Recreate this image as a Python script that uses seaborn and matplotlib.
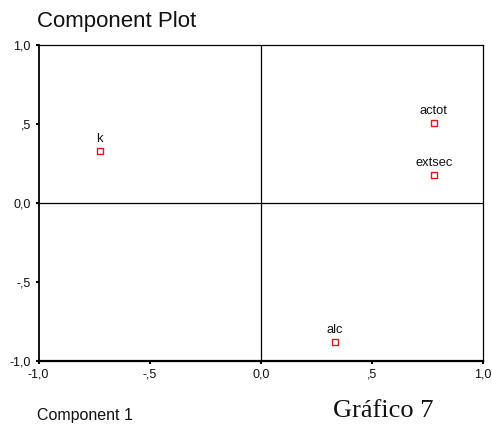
import matplotlib
matplotlib.use("Agg")
import matplotlib.pyplot as plt
import seaborn as sns
import pandas as pd

# Component loadings
variables = ["k", "actot", "extsec", "alc"]
comp1 = [-0.724, 0.778, 0.778, 0.333]
comp2 = [0.329, 0.506, 0.177, -0.880]
tick_values = [-1.0, -0.5, 0.0, 0.5, 1.0]
tick_labels = ["-1,0", "-,5", "0,0", ",5", "1,0"]

df = pd.DataFrame({"var": variables, "c1": comp1, "c2": comp2})

sns.set_theme(style="white")
plt.rcParams["font.family"] = ["Liberation Sans", "DejaVu Sans"]

W, H = 492, 426
fig = plt.figure(figsize=(W / 100, H / 100), dpi=100)
ax = fig.add_axes([38.5 / W, 1 - 361 / H, (483 - 38.5) / W, (361 - 45) / H])

sns.scatterplot(data=df, x="c1", y="c2", ax=ax, marker="s", s=15,
                facecolor="white", edgecolor="#e8141c", linewidth=1.0,
                legend=False, zorder=3)

for v, x, y in zip(variables, comp1, comp2):
    ax.annotate(v, (x, y), xytext=(0, 4.5), textcoords="offset points",
                ha="center", va="bottom", fontsize=9.3, color="#111111")

ax.axhline(0, color="black", lw=0.9, zorder=1)
ax.axvline(0, color="black", lw=0.9, zorder=1)

ax.set_xlim(-1, 1)
ax.set_ylim(-1, 1)
ax.set_xticks(tick_values)
ax.set_xticklabels(tick_labels)
ax.set_yticks(tick_values)
ax.set_yticklabels(tick_labels)
ax.set_xlabel("")
ax.set_ylabel("")
ax.tick_params(axis="both", which="both", direction="out", length=2.5,
               width=1.5, color="black", labelsize=9, pad=3,
               bottom=True, left=True, labelcolor="#111111")

for side, sp in ax.spines.items():
    sp.set_visible(True)
    sp.set_color("black")
    sp.set_linewidth(0.9)
ax.spines["bottom"].set_linewidth(1.6)
ax.spines["left"].set_linewidth(1.3)

fig.text(37 / W, 1 - 27 / H, "Component Plot", fontsize=16,
         ha="left", va="baseline", color="#111111")
fig.text(37 / W, 1 - 420 / H, "Component 1", fontsize=11.5,
         ha="left", va="baseline", color="#111111")
fig.text(333 / W, 1 - 417 / H, "Gráfico 7", fontsize=19,
         ha="left", va="baseline", color="#111111",
         family=["Liberation Serif", "DejaVu Serif"])

fig.savefig("out.png", dpi=100, facecolor="white")
